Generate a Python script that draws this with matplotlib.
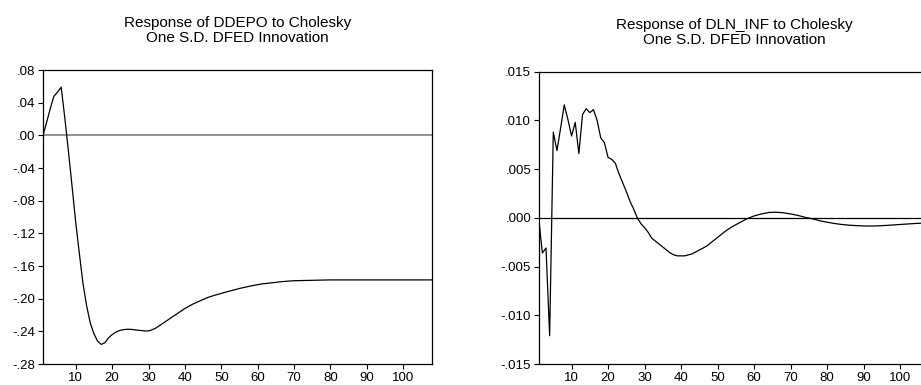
import matplotlib
matplotlib.use("Agg")
import matplotlib.pyplot as plt

plt.rcParams["font.family"] = ["Liberation Sans", "DejaVu Sans"]

# Response of DDEPO (periods and values)
ddepo_period = [1, 2, 3, 4, 5, 6, 7, 8, 9, 10, 11, 12, 13, 14, 15, 16, 17, 18,
                19, 20, 21, 22, 23, 24, 25, 26, 27, 28, 29, 30, 31, 32, 33, 34,
                35, 36, 37, 38, 39, 40, 42, 44, 46, 48, 50, 52, 55, 58, 61, 64,
                67, 70, 75, 80, 90, 100, 108]
ddepo_value = [0.000, 0.016, 0.033, 0.048, 0.053, 0.059, 0.021, -0.020,
               -0.063, -0.107, -0.145, -0.182, -0.209, -0.230, -0.243, -0.252,
               -0.256, -0.254, -0.248, -0.244, -0.241, -0.239, -0.238, -0.2375,
               -0.2375, -0.238, -0.2385, -0.239, -0.2395, -0.2395, -0.238,
               -0.236, -0.233, -0.230, -0.227, -0.224, -0.221, -0.218, -0.215,
               -0.212, -0.207, -0.203, -0.199, -0.196, -0.1935, -0.191, -0.1875,
               -0.1845, -0.182, -0.1805, -0.179, -0.178, -0.1775, -0.177, -0.177,
               -0.177, -0.177]

# Response of DLN_INF
inf_period = list(range(1, 49)) + [50, 52, 54, 56, 58, 60, 62, 64, 66, 68, 70,
                                   72, 74, 76, 78, 80, 82, 84, 86, 88, 90, 92,
                                   94, 96, 98, 100, 102, 104, 106, 108]
inf_value = [0.0000, -0.0036, -0.0031, -0.0121, 0.0088, 0.0069, 0.0092,
             0.0116, 0.0101, 0.0084, 0.0098, 0.0066, 0.0106, 0.0112, 0.0108,
             0.0111, 0.0100, 0.0082, 0.0077, 0.0062, 0.0060, 0.0056, 0.0045,
             0.0036, 0.0027, 0.0017, 0.0009, 0.0000, -0.0006, -0.0010, -0.0015,
             -0.0021, -0.0024, -0.0027, -0.0030, -0.0033, -0.0036, -0.0038,
             -0.0039, -0.0039, -0.0039, -0.0038, -0.0037, -0.0035, -0.0033,
             -0.0031, -0.0029, -0.0026,
             -0.0020, -0.0014, -0.0009, -0.0005, -0.0001, 0.0002, 0.0004,
             0.00055, 0.00058, 0.00052, 0.0004, 0.00025, 0.00005, -0.0001,
             -0.0003, -0.00045, -0.00058, -0.00068, -0.00075, -0.0008,
             -0.00083, -0.00084, -0.00082, -0.00078, -0.00073, -0.00068,
             -0.00063, -0.00058, -0.00054, -0.0005]

x_ticks = [10, 20, 30, 40, 50, 60, 70, 80, 90, 100]
ddepo_yticks = [-0.28, -0.24, -0.20, -0.16, -0.12, -0.08, -0.04, 0.00, 0.04, 0.08]
ddepo_ylabels = ["-.28", "-.24", "-.20", "-.16", "-.12", "-.08", "-.04", ".00", ".04", ".08"]
inf_yticks = [-0.015, -0.010, -0.005, 0.000, 0.005, 0.010, 0.015]
inf_ylabels = ["-.015", "-.010", "-.005", ".000", ".005", ".010", ".015"]


def style(ax, title, yticks, ylabels, zero_color):
    ax.axhline(0, color=zero_color, lw=1.2 if zero_color != "black" else 0.9, zorder=1)
    ax.set_xlim(1, 108)
    ax.set_ylim(yticks[0], yticks[-1])
    ax.set_xticks(x_ticks)
    ax.set_yticks(yticks)
    ax.set_yticklabels(ylabels)
    ax.tick_params(direction="out", length=3.5, width=0.8, labelsize=9.5, pad=2)
    for s in ax.spines.values():
        s.set_linewidth(0.9)
    ax.set_title(title, fontsize=11, pad=20, linespacing=1.12)


fig = plt.figure(figsize=(9.21, 3.85), dpi=100)

ax1 = fig.add_axes([0.0467, 0.0545, 0.4227, 0.7636])
ax1.plot(ddepo_period, ddepo_value, color="black", lw=0.9, zorder=2)
style(ax1, "Response of DDEPO to Cholesky\nOne S.D. DFED Innovation",
      ddepo_yticks, ddepo_ylabels, "#808080")

ax2 = fig.add_axes([0.5849, 0.0545, 0.4243, 0.7593])
ax2.plot(inf_period, inf_value, color="black", lw=0.9, zorder=2)
style(ax2, "Response of DLN_INF to Cholesky\nOne S.D. DFED Innovation",
      inf_yticks, inf_ylabels, "black")

fig.savefig("out.png", dpi=100, facecolor="white")
